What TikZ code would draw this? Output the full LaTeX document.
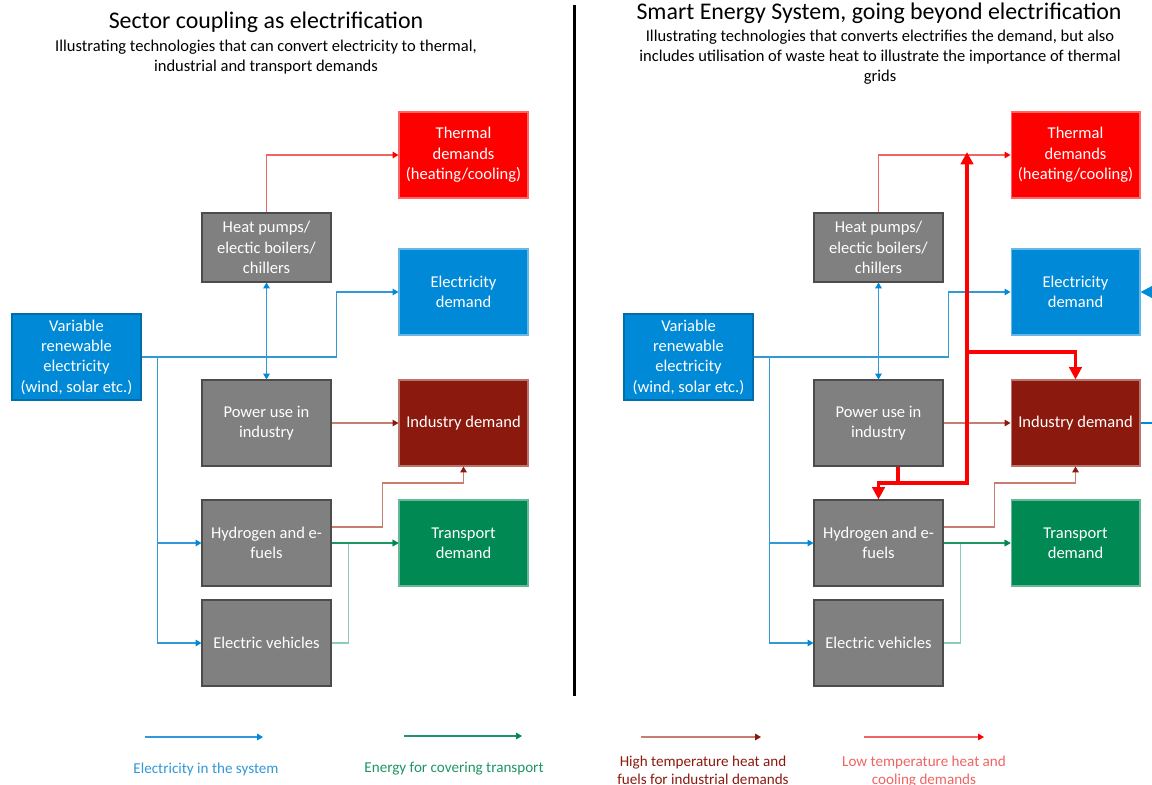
\documentclass[tikz,border=0pt]{standalone}
\usepackage{fontspec}
\setmainfont{Carlito}
\usetikzlibrary{arrows.meta}
\definecolor{elblue}{RGB}{0,137,214}
\definecolor{elline}{RGB}{50,152,215}
\definecolor{techgray}{RGB}{128,128,128}
\definecolor{thred}{RGB}{255,0,0}
\definecolor{lowred}{RGB}{240,100,100}
\definecolor{inddark}{RGB}{140,25,14}
\definecolor{indline}{RGB}{200,125,115}
\definecolor{trgreen}{RGB}{0,137,82}
\definecolor{trline}{RGB}{30,150,100}
\definecolor{trlight}{RGB}{140,205,180}
\begin{document}
\begin{tikzpicture}[x=0.02cm,y=-0.02cm,
    box/.style={minimum width=2.58cm, minimum height=1.72cm, inner sep=2pt, align=center,
        text=white, font=\fontsize{9.4}{11.6}\selectfont, line width=0.6pt},
    tech/.style={box, fill=techgray, draw=black!70},
    elec/.style={box, fill=elblue, draw=elblue!60},
    thermal/.style={box, fill=thred, draw=thred!60},
    industry/.style={box, fill=inddark, draw=inddark!60},
    transport/.style={box, fill=trgreen, draw=trgreen!60},
    tip/.style={-{Triangle[length=3.4pt,width=3.8pt,color=#1]}},
    elflow/.style={line width=0.6pt, elline, tip=elblue},
    lowflow/.style={line width=0.6pt, lowred, tip=thred},
    indflow/.style={line width=0.6pt, indline, tip=inddark},
    trflow/.style={line width=0.6pt, trline, tip=trgreen},
    wasteheat/.style={line width=2pt, thred, -{Triangle[length=7pt,width=7pt]}},
    title/.style={font=\fontsize{13.6}{16}\selectfont},
    subtitle/.style={align=center, font=\fontsize{9.4}{11.3}\selectfont},
    legend/.style={align=center, font=\fontsize{8.6}{10.2}\selectfont}
    ]
    \useasboundingbox (0,0) rectangle (1152,784);
    \fill[white] (0,0) rectangle (1152,784);

    \node[title] (titleL) at (266,22) {Sector coupling as electrification};
    \node[subtitle] (subL) at (266,57) {Illustrating technologies that can convert electricity to thermal,\\industrial and transport demands};
    \node[title] (titleR) at (879,13) {Smart Energy System, going beyond electrification};
    \node[subtitle] (subR) at (880,57) {Illustrating technologies that converts electrifies the demand, but also\\includes utilisation of waste heat to illustrate the importance of thermal\\grids};

    \draw[line width=1.7pt] (574,5) -- (574,696);

    \foreach \dx/\p in {0/L,612/R}
    {
        \node[elec, draw=elblue!80!black] (vre\p) at (76.5+\dx,357) {Variable\\renewable\\electricity\\(wind, solar etc.)};
        \node[tech, minimum height=1.38cm] (hp\p) at (266.5+\dx,247.5) {Heat pumps/\\electic boilers/\\chillers};
        \node[tech] (pui\p) at (266.5+\dx,423) {Power use in\\industry};
        \node[tech] (hyd\p) at (266.5+\dx,543) {Hydrogen and e-\\fuels};
        \node[tech] (ev\p) at (266.5+\dx,643) {Electric vehicles};
        \node[thermal] (thd\p) at (463.5+\dx,155) {Thermal\\demands\\(heating/cooling)};
        \node[elec] (eld\p) at (463.5+\dx,292) {Electricity\\demand};
        \node[industry] (ind\p) at (463.5+\dx,423) {Industry demand};
        \node[transport] (trd\p) at (463.5+\dx,543) {Transport\\demand};

        \draw[lowflow] (hp\p.north) |- (thd\p.west);
        \draw[elflow] (vre\p.east) -- ++(195,0) |- (eld\p.west);
        \draw[elflow, {Triangle[length=3.4pt,width=3.8pt,color=elblue]}-{Triangle[length=3.4pt,width=3.8pt,color=elblue]}] (hp\p.south) -- (pui\p.north);
        \draw[elflow] (vre\p.east) ++(16,0) coordinate (jn\p) |- (hyd\p.west);
        \draw[elflow] (jn\p) |- (ev\p.west);
        \draw[indflow] (pui\p.east) -- (ind\p.west);
        \draw[indflow] ([yshift=0.32cm]hyd\p.east) -- ++(51,0) -- ++(0,-44) -| (ind\p.south);
        \draw[trflow, trlight] (ev\p.east) -- ++(17,0) |- (trd\p.west);
        \draw[trflow] (hyd\p.east) -- (trd\p.west);
    }

    \coordinate (hub) at (967,483);
    \coordinate (tgrid) at (967,152);
    \coordinate (brk) at (967,352);
    \draw[wasteheat] ([xshift=0.39cm]puiR.south) |- (hub) -- (tgrid);
    \draw[wasteheat] (hub) -| (hydR.north);
    \draw[wasteheat] (brk) -| (indR.north);

    \coordinate (offE) at (1175,292);
    \coordinate (offI) at (1175,423);
    \draw[line width=1.2pt, elblue, -{Triangle[length=6.5pt,width=6.5pt]}] (offE) -- (eldR.east);
    \draw[line width=1.2pt, elblue] (indR.east) -- (offI);

    \coordinate (lg1a) at (145,737);
    \coordinate (lg1b) at (263,737);
    \draw[elflow] (lg1a) -- (lg1b);
    \node[legend, text=elline] (lg1) at (206,769) {Electricity in the system};
    \coordinate (lg2a) at (404,736);
    \coordinate (lg2b) at (522,736);
    \draw[trflow] (lg2a) -- (lg2b);
    \node[legend, text=trline] (lg2) at (454,769) {Energy for covering transport};
    \coordinate (lg3a) at (641,737);
    \coordinate (lg3b) at (761,737);
    \draw[indflow] (lg3a) -- (lg3b);
    \node[legend, text=inddark, anchor=north] (lg3) at (703,750) {High temperature heat and\\fuels for industrial demands};
    \coordinate (lg4a) at (864,737);
    \coordinate (lg4b) at (984,737);
    \draw[lowflow] (lg4a) -- (lg4b);
    \node[legend, text=lowred, anchor=north] (lg4) at (924,750) {Low temperature heat and\\cooling demands};
\end{tikzpicture}
\end{document}
